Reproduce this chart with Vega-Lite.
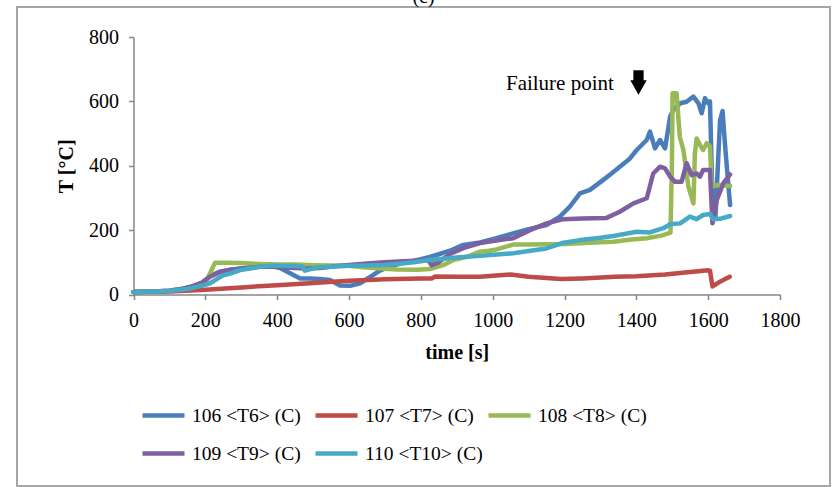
{
  "$schema": "https://vega.github.io/schema/vega-lite/v6.json",
  "width": 813,
  "height": 479,
  "autosize": {"type": "none"},
  "padding": {"left": 17, "top": 7, "right": 5, "bottom": 1},
  "background": "white",
  "config": {
    "font": "Liberation Serif",
    "view": {"stroke": "#a6a6a6", "strokeWidth": 2},
    "axis": {
      "grid": false,
      "domainColor": "#868686",
      "domainWidth": 1.5,
      "tickColor": "#868686",
      "tickWidth": 1.5,
      "tickSize": 5,
      "labelFont": "Liberation Serif",
      "labelFontSize": 20,
      "labelColor": "black",
      "labelFlush": false,
      "labelOverlap": false,
      "titleFont": "Liberation Serif",
      "titleFontSize": 20,
      "titleFontWeight": "bold",
      "titleColor": "black"
    }
  },
  "title": {
    "text": "(c)",
    "font": "Liberation Serif",
    "fontSize": 20,
    "fontWeight": "normal",
    "color": "black",
    "anchor": "middle",
    "offset": 0
  },
  "datasets": {
    "temps": [
      {"s": "106 <T6> (C)", "t": 0, "T": 8}, {"s": "106 <T6> (C)", "t": 60, "T": 9}, {"s": "106 <T6> (C)", "t": 100, "T": 12}, {"s": "106 <T6> (C)", "t": 130, "T": 16}, {"s": "106 <T6> (C)", "t": 160, "T": 24}, {"s": "106 <T6> (C)", "t": 190, "T": 36}, {"s": "106 <T6> (C)", "t": 213, "T": 57}, {"s": "106 <T6> (C)", "t": 241, "T": 71}, {"s": "106 <T6> (C)", "t": 270, "T": 77}, {"s": "106 <T6> (C)", "t": 297, "T": 81}, {"s": "106 <T6> (C)", "t": 330, "T": 85}, {"s": "106 <T6> (C)", "t": 352, "T": 88}, {"s": "106 <T6> (C)", "t": 380, "T": 89}, {"s": "106 <T6> (C)", "t": 408, "T": 82}, {"s": "106 <T6> (C)", "t": 436, "T": 66}, {"s": "106 <T6> (C)", "t": 464, "T": 50}, {"s": "106 <T6> (C)", "t": 490, "T": 50}, {"s": "106 <T6> (C)", "t": 519, "T": 48}, {"s": "106 <T6> (C)", "t": 547, "T": 45}, {"s": "106 <T6> (C)", "t": 575, "T": 28}, {"s": "106 <T6> (C)", "t": 603, "T": 27}, {"s": "106 <T6> (C)", "t": 631, "T": 35}, {"s": "106 <T6> (C)", "t": 659, "T": 55}, {"s": "106 <T6> (C)", "t": 686, "T": 74}, {"s": "106 <T6> (C)", "t": 714, "T": 87}, {"s": "106 <T6> (C)", "t": 740, "T": 95}, {"s": "106 <T6> (C)", "t": 770, "T": 102}, {"s": "106 <T6> (C)", "t": 800, "T": 110}, {"s": "106 <T6> (C)", "t": 825, "T": 117}, {"s": "106 <T6> (C)", "t": 850, "T": 125}, {"s": "106 <T6> (C)", "t": 881, "T": 136}, {"s": "106 <T6> (C)", "t": 918, "T": 154}, {"s": "106 <T6> (C)", "t": 965, "T": 162}, {"s": "106 <T6> (C)", "t": 1010, "T": 175}, {"s": "106 <T6> (C)", "t": 1057, "T": 190}, {"s": "106 <T6> (C)", "t": 1100, "T": 203}, {"s": "106 <T6> (C)", "t": 1150, "T": 216}, {"s": "106 <T6> (C)", "t": 1187, "T": 242}, {"s": "106 <T6> (C)", "t": 1215, "T": 273}, {"s": "106 <T6> (C)", "t": 1243, "T": 314}, {"s": "106 <T6> (C)", "t": 1271, "T": 325}, {"s": "106 <T6> (C)", "t": 1308, "T": 356}, {"s": "106 <T6> (C)", "t": 1330, "T": 375}, {"s": "106 <T6> (C)", "t": 1354, "T": 397}, {"s": "106 <T6> (C)", "t": 1380, "T": 420}, {"s": "106 <T6> (C)", "t": 1401, "T": 449}, {"s": "106 <T6> (C)", "t": 1429, "T": 480}, {"s": "106 <T6> (C)", "t": 1438, "T": 506}, {"s": "106 <T6> (C)", "t": 1452, "T": 454}, {"s": "106 <T6> (C)", "t": 1466, "T": 480}, {"s": "106 <T6> (C)", "t": 1480, "T": 454}, {"s": "106 <T6> (C)", "t": 1494, "T": 552}, {"s": "106 <T6> (C)", "t": 1503, "T": 573}, {"s": "106 <T6> (C)", "t": 1522, "T": 594}, {"s": "106 <T6> (C)", "t": 1540, "T": 599}, {"s": "106 <T6> (C)", "t": 1559, "T": 615}, {"s": "106 <T6> (C)", "t": 1573, "T": 594}, {"s": "106 <T6> (C)", "t": 1582, "T": 563}, {"s": "106 <T6> (C)", "t": 1591, "T": 610}, {"s": "106 <T6> (C)", "t": 1600, "T": 594}, {"s": "106 <T6> (C)", "t": 1605, "T": 600}, {"s": "106 <T6> (C)", "t": 1612, "T": 300}, {"s": "106 <T6> (C)", "t": 1620, "T": 235}, {"s": "106 <T6> (C)", "t": 1633, "T": 540}, {"s": "106 <T6> (C)", "t": 1640, "T": 570}, {"s": "106 <T6> (C)", "t": 1648, "T": 450}, {"s": "106 <T6> (C)", "t": 1661, "T": 278},

      {"s": "107 <T7> (C)", "t": 0, "T": 8}, {"s": "107 <T7> (C)", "t": 100, "T": 9}, {"s": "107 <T7> (C)", "t": 200, "T": 15}, {"s": "107 <T7> (C)", "t": 300, "T": 22}, {"s": "107 <T7> (C)", "t": 400, "T": 29}, {"s": "107 <T7> (C)", "t": 500, "T": 36}, {"s": "107 <T7> (C)", "t": 600, "T": 43}, {"s": "107 <T7> (C)", "t": 700, "T": 47}, {"s": "107 <T7> (C)", "t": 800, "T": 50}, {"s": "107 <T7> (C)", "t": 830, "T": 50}, {"s": "107 <T7> (C)", "t": 840, "T": 56}, {"s": "107 <T7> (C)", "t": 900, "T": 55}, {"s": "107 <T7> (C)", "t": 965, "T": 55}, {"s": "107 <T7> (C)", "t": 1000, "T": 58}, {"s": "107 <T7> (C)", "t": 1050, "T": 62}, {"s": "107 <T7> (C)", "t": 1100, "T": 55}, {"s": "107 <T7> (C)", "t": 1190, "T": 48}, {"s": "107 <T7> (C)", "t": 1250, "T": 50}, {"s": "107 <T7> (C)", "t": 1340, "T": 55}, {"s": "107 <T7> (C)", "t": 1400, "T": 57}, {"s": "107 <T7> (C)", "t": 1480, "T": 62}, {"s": "107 <T7> (C)", "t": 1550, "T": 70}, {"s": "107 <T7> (C)", "t": 1600, "T": 75}, {"s": "107 <T7> (C)", "t": 1605, "T": 74}, {"s": "107 <T7> (C)", "t": 1612, "T": 25}, {"s": "107 <T7> (C)", "t": 1630, "T": 38}, {"s": "107 <T7> (C)", "t": 1660, "T": 55},

      {"s": "108 <T8> (C)", "t": 0, "T": 8}, {"s": "108 <T8> (C)", "t": 60, "T": 9}, {"s": "108 <T8> (C)", "t": 100, "T": 12}, {"s": "108 <T8> (C)", "t": 150, "T": 20}, {"s": "108 <T8> (C)", "t": 190, "T": 36}, {"s": "108 <T8> (C)", "t": 205, "T": 48}, {"s": "108 <T8> (C)", "t": 215, "T": 70}, {"s": "108 <T8> (C)", "t": 227, "T": 99}, {"s": "108 <T8> (C)", "t": 260, "T": 99}, {"s": "108 <T8> (C)", "t": 297, "T": 98}, {"s": "108 <T8> (C)", "t": 350, "T": 95}, {"s": "108 <T8> (C)", "t": 400, "T": 93}, {"s": "108 <T8> (C)", "t": 454, "T": 93}, {"s": "108 <T8> (C)", "t": 500, "T": 91}, {"s": "108 <T8> (C)", "t": 550, "T": 90}, {"s": "108 <T8> (C)", "t": 600, "T": 89}, {"s": "108 <T8> (C)", "t": 639, "T": 85}, {"s": "108 <T8> (C)", "t": 700, "T": 80}, {"s": "108 <T8> (C)", "t": 733, "T": 78}, {"s": "108 <T8> (C)", "t": 790, "T": 77}, {"s": "108 <T8> (C)", "t": 825, "T": 79}, {"s": "108 <T8> (C)", "t": 862, "T": 91}, {"s": "108 <T8> (C)", "t": 890, "T": 107}, {"s": "108 <T8> (C)", "t": 930, "T": 118}, {"s": "108 <T8> (C)", "t": 965, "T": 133}, {"s": "108 <T8> (C)", "t": 990, "T": 136}, {"s": "108 <T8> (C)", "t": 1010, "T": 140}, {"s": "108 <T8> (C)", "t": 1057, "T": 155}, {"s": "108 <T8> (C)", "t": 1100, "T": 155}, {"s": "108 <T8> (C)", "t": 1150, "T": 156}, {"s": "108 <T8> (C)", "t": 1200, "T": 157}, {"s": "108 <T8> (C)", "t": 1243, "T": 159}, {"s": "108 <T8> (C)", "t": 1300, "T": 162}, {"s": "108 <T8> (C)", "t": 1336, "T": 164}, {"s": "108 <T8> (C)", "t": 1380, "T": 170}, {"s": "108 <T8> (C)", "t": 1429, "T": 175}, {"s": "108 <T8> (C)", "t": 1470, "T": 183}, {"s": "108 <T8> (C)", "t": 1495, "T": 192}, {"s": "108 <T8> (C)", "t": 1499, "T": 400}, {"s": "108 <T8> (C)", "t": 1501, "T": 625}, {"s": "108 <T8> (C)", "t": 1512, "T": 625}, {"s": "108 <T8> (C)", "t": 1521, "T": 490}, {"s": "108 <T8> (C)", "t": 1531, "T": 449}, {"s": "108 <T8> (C)", "t": 1545, "T": 335}, {"s": "108 <T8> (C)", "t": 1559, "T": 283}, {"s": "108 <T8> (C)", "t": 1563, "T": 439}, {"s": "108 <T8> (C)", "t": 1568, "T": 485}, {"s": "108 <T8> (C)", "t": 1577, "T": 465}, {"s": "108 <T8> (C)", "t": 1586, "T": 449}, {"s": "108 <T8> (C)", "t": 1596, "T": 470}, {"s": "108 <T8> (C)", "t": 1605, "T": 460}, {"s": "108 <T8> (C)", "t": 1610, "T": 335}, {"s": "108 <T8> (C)", "t": 1624, "T": 340}, {"s": "108 <T8> (C)", "t": 1661, "T": 337},

      {"s": "109 <T9> (C)", "t": 0, "T": 8}, {"s": "109 <T9> (C)", "t": 60, "T": 9}, {"s": "109 <T9> (C)", "t": 100, "T": 12}, {"s": "109 <T9> (C)", "t": 130, "T": 16}, {"s": "109 <T9> (C)", "t": 160, "T": 24}, {"s": "109 <T9> (C)", "t": 190, "T": 36}, {"s": "109 <T9> (C)", "t": 213, "T": 55}, {"s": "109 <T9> (C)", "t": 241, "T": 70}, {"s": "109 <T9> (C)", "t": 270, "T": 77}, {"s": "109 <T9> (C)", "t": 297, "T": 80}, {"s": "109 <T9> (C)", "t": 352, "T": 86}, {"s": "109 <T9> (C)", "t": 400, "T": 86}, {"s": "109 <T9> (C)", "t": 436, "T": 83}, {"s": "109 <T9> (C)", "t": 480, "T": 81}, {"s": "109 <T9> (C)", "t": 520, "T": 82}, {"s": "109 <T9> (C)", "t": 560, "T": 88}, {"s": "109 <T9> (C)", "t": 600, "T": 92}, {"s": "109 <T9> (C)", "t": 650, "T": 96}, {"s": "109 <T9> (C)", "t": 700, "T": 100}, {"s": "109 <T9> (C)", "t": 750, "T": 103}, {"s": "109 <T9> (C)", "t": 800, "T": 106}, {"s": "109 <T9> (C)", "t": 820, "T": 107}, {"s": "109 <T9> (C)", "t": 830, "T": 91}, {"s": "109 <T9> (C)", "t": 850, "T": 100}, {"s": "109 <T9> (C)", "t": 881, "T": 126}, {"s": "109 <T9> (C)", "t": 920, "T": 145}, {"s": "109 <T9> (C)", "t": 965, "T": 160}, {"s": "109 <T9> (C)", "t": 1010, "T": 168}, {"s": "109 <T9> (C)", "t": 1057, "T": 175}, {"s": "109 <T9> (C)", "t": 1104, "T": 200}, {"s": "109 <T9> (C)", "t": 1150, "T": 221}, {"s": "109 <T9> (C)", "t": 1197, "T": 234}, {"s": "109 <T9> (C)", "t": 1250, "T": 236}, {"s": "109 <T9> (C)", "t": 1317, "T": 238}, {"s": "109 <T9> (C)", "t": 1354, "T": 257}, {"s": "109 <T9> (C)", "t": 1392, "T": 283}, {"s": "109 <T9> (C)", "t": 1429, "T": 299}, {"s": "109 <T9> (C)", "t": 1447, "T": 376}, {"s": "109 <T9> (C)", "t": 1466, "T": 397}, {"s": "109 <T9> (C)", "t": 1480, "T": 392}, {"s": "109 <T9> (C)", "t": 1494, "T": 366}, {"s": "109 <T9> (C)", "t": 1508, "T": 350}, {"s": "109 <T9> (C)", "t": 1526, "T": 350}, {"s": "109 <T9> (C)", "t": 1540, "T": 408}, {"s": "109 <T9> (C)", "t": 1554, "T": 371}, {"s": "109 <T9> (C)", "t": 1568, "T": 376}, {"s": "109 <T9> (C)", "t": 1577, "T": 366}, {"s": "109 <T9> (C)", "t": 1586, "T": 387}, {"s": "109 <T9> (C)", "t": 1605, "T": 387}, {"s": "109 <T9> (C)", "t": 1612, "T": 221}, {"s": "109 <T9> (C)", "t": 1624, "T": 294}, {"s": "109 <T9> (C)", "t": 1642, "T": 345}, {"s": "109 <T9> (C)", "t": 1661, "T": 373},

      {"s": "110 <T10> (C)", "t": 0, "T": 8}, {"s": "110 <T10> (C)", "t": 60, "T": 9}, {"s": "110 <T10> (C)", "t": 100, "T": 11}, {"s": "110 <T10> (C)", "t": 150, "T": 17}, {"s": "110 <T10> (C)", "t": 190, "T": 27}, {"s": "110 <T10> (C)", "t": 213, "T": 35}, {"s": "110 <T10> (C)", "t": 250, "T": 60}, {"s": "110 <T10> (C)", "t": 269, "T": 65}, {"s": "110 <T10> (C)", "t": 297, "T": 76}, {"s": "110 <T10> (C)", "t": 324, "T": 81}, {"s": "110 <T10> (C)", "t": 352, "T": 86}, {"s": "110 <T10> (C)", "t": 380, "T": 89}, {"s": "110 <T10> (C)", "t": 420, "T": 89}, {"s": "110 <T10> (C)", "t": 464, "T": 88}, {"s": "110 <T10> (C)", "t": 472, "T": 86}, {"s": "110 <T10> (C)", "t": 477, "T": 74}, {"s": "110 <T10> (C)", "t": 510, "T": 84}, {"s": "110 <T10> (C)", "t": 560, "T": 87}, {"s": "110 <T10> (C)", "t": 600, "T": 89}, {"s": "110 <T10> (C)", "t": 650, "T": 90}, {"s": "110 <T10> (C)", "t": 700, "T": 92}, {"s": "110 <T10> (C)", "t": 733, "T": 95}, {"s": "110 <T10> (C)", "t": 780, "T": 100}, {"s": "110 <T10> (C)", "t": 825, "T": 107}, {"s": "110 <T10> (C)", "t": 900, "T": 115}, {"s": "110 <T10> (C)", "t": 965, "T": 120}, {"s": "110 <T10> (C)", "t": 1010, "T": 124}, {"s": "110 <T10> (C)", "t": 1057, "T": 128}, {"s": "110 <T10> (C)", "t": 1100, "T": 135}, {"s": "110 <T10> (C)", "t": 1150, "T": 143}, {"s": "110 <T10> (C)", "t": 1197, "T": 161}, {"s": "110 <T10> (C)", "t": 1243, "T": 169}, {"s": "110 <T10> (C)", "t": 1290, "T": 175}, {"s": "110 <T10> (C)", "t": 1336, "T": 182}, {"s": "110 <T10> (C)", "t": 1401, "T": 195}, {"s": "110 <T10> (C)", "t": 1438, "T": 193}, {"s": "110 <T10> (C)", "t": 1475, "T": 206}, {"s": "110 <T10> (C)", "t": 1494, "T": 218}, {"s": "110 <T10> (C)", "t": 1522, "T": 221}, {"s": "110 <T10> (C)", "t": 1549, "T": 242}, {"s": "110 <T10> (C)", "t": 1568, "T": 234}, {"s": "110 <T10> (C)", "t": 1586, "T": 247}, {"s": "110 <T10> (C)", "t": 1605, "T": 250}, {"s": "110 <T10> (C)", "t": 1614, "T": 234}, {"s": "110 <T10> (C)", "t": 1633, "T": 235}, {"s": "110 <T10> (C)", "t": 1661, "T": 244}
    ],
    "note": [{"t": 1037, "T": 655, "label": "Failure point"}],
    "arrow": [{"t": 1406, "T": 659}]
  },
  "layer": [
    {
      "data": {"name": "temps"},
      "mark": {"type": "line", "strokeWidth": 4.5, "strokeCap": "round", "strokeJoin": "round"},
      "encoding": {
        "x": {
          "field": "t",
          "type": "quantitative",
          "scale": {"domain": [0, 1800], "range": [116.5, 763], "nice": false, "zero": false},
          "axis": {
            "values": [0, 200, 400, 600, 800, 1000, 1200, 1400, 1600, 1800],
            "format": "d",
            "offset": -191.5,
            "labelPadding": 11,
            "title": "time [s]",
            "titlePadding": 12
          }
        },
        "y": {
          "field": "T",
          "type": "quantitative",
          "scale": {"domain": [0, 800], "range": [287.5, 30], "nice": false},
          "axis": {
            "values": [0, 200, 400, 600, 800],
            "offset": -116.5,
            "labelPadding": 10,
            "title": "T [°C]",
            "titlePadding": 12
          }
        },
        "color": {
          "field": "s",
          "type": "nominal",
          "scale": {
            "domain": ["106 <T6> (C)", "107 <T7> (C)", "108 <T8> (C)", "109 <T9> (C)", "110 <T10> (C)"],
            "range": ["#4a7ebb", "#be4b48", "#98b954", "#7d60a0", "#46aac5"]
          },
          "legend": {
            "title": null,
            "orient": "none",
            "direction": "horizontal",
            "legendX": 123,
            "legendY": 385,
            "columns": 3,
            "gridAlign": "all",
            "columnPadding": -4,
            "rowPadding": 5,
            "padding": 0,
            "symbolType": "stroke",
            "symbolSize": 1764,
            "symbolStrokeWidth": 4.5,
            "labelFont": "Liberation Serif",
            "labelFontSize": 19.5,
            "labelColor": "black",
            "labelOffset": 5,
            "labelLimit": 300
          }
        },
        "order": {"field": "t", "type": "quantitative"}
      }
    },
    {
      "data": {"name": "note"},
      "mark": {"type": "text", "align": "left", "baseline": "middle", "font": "Liberation Serif", "fontSize": 21, "color": "black"},
      "encoding": {
        "x": {"field": "t", "type": "quantitative"},
        "y": {"field": "T", "type": "quantitative"},
        "text": {"field": "label"}
      }
    },
    {
      "data": {"name": "arrow"},
      "mark": {
        "type": "point",
        "shape": "M-0.42,-1L0.42,-1L0.42,-0.18L0.67,-0.18L0,1L-0.67,-0.18L-0.42,-0.18Z",
        "filled": true,
        "color": "black",
        "opacity": 1,
        "size": 600
      },
      "encoding": {
        "x": {"field": "t", "type": "quantitative"},
        "y": {"field": "T", "type": "quantitative"}
      }
    }
  ]
}
